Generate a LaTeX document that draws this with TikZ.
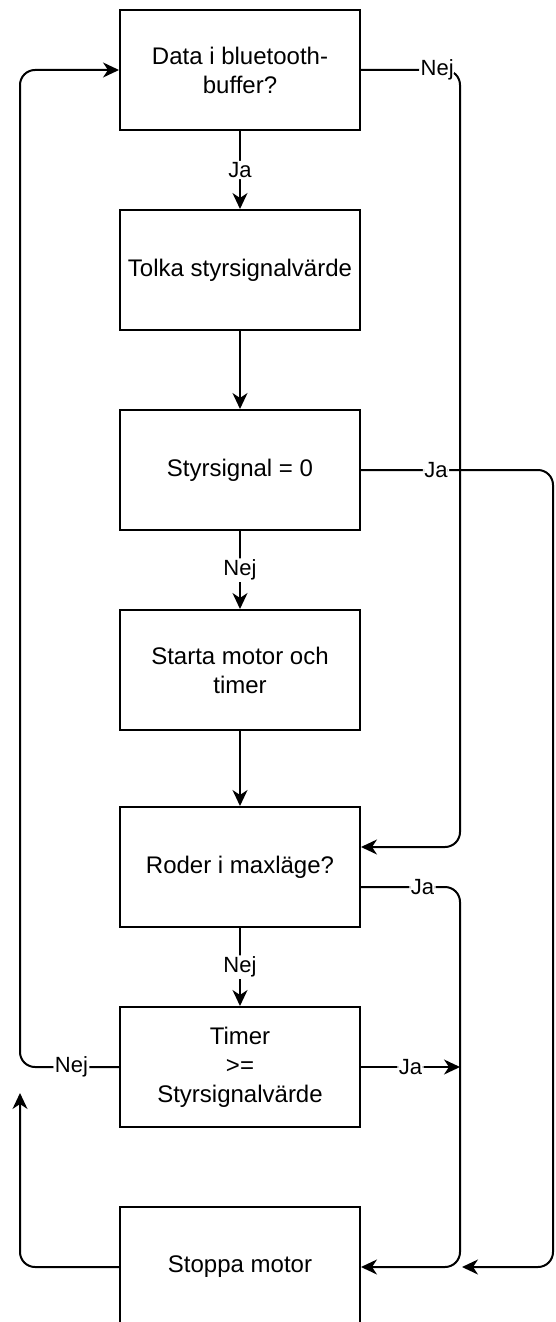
\documentclass[tikz,border=0pt]{standalone}
\usepackage{fontspec}
\setmainfont{Liberation Sans}
\usetikzlibrary{arrows.meta,calc}
\begin{document}
\begin{tikzpicture}[x=1pt,y=-1pt,
  box/.style={draw,line width=2pt,minimum width=240pt,minimum height=120pt,align=center,font=\fontsize{24}{29}\selectfont,inner sep=0pt},
  conn/.style={line width=2pt,rounded corners=15pt},
  arr/.style={conn,-{Stealth[length=16pt,width=15pt,inset=5pt]}},
  lbl/.style={fill=white,inner sep=1.5pt,font=\fontsize{22}{26}\selectfont}]
\useasboundingbox (0,0) rectangle (555,1322);

\node[box] (b1) at (240,70) {Data i bluetooth-\\buffer?};
\node[box] (b2) at (240,270) {Tolka styrsignalvärde};
\node[box] (b3) at (240,470) {Styrsignal = 0};
\node[box] (b4) at (240,670) {Starta motor och\\timer};
\node[box] (b5) at (240,867) {Roder i maxläge?};
\node[box] (b6) at (240,1067) {Timer\\>=\\Styrsignalvärde};
\node[box] (b7) at (240,1267) {Stoppa motor};

\coordinate (rx) at (460,0);
\coordinate (fx) at (553,0);
\coordinate (lx) at (20,0);
\coordinate (p5in) at ($(b5.east)+(0,-20)$);
\coordinate (p5out) at ($(b5.east)+(0,20)$);
\coordinate (e2) at ($(b7.east -| rx)+(2,0)$);
\coordinate (e6) at (20,1093);

\draw[arr] (b1) -- node[lbl]{Ja} (b2);
\draw[arr] (b2) -- (b3);
\draw[arr] (b3) -- node[lbl]{Nej} (b4);
\draw[arr] (b4) -- (b5);
\draw[arr] (b5) -- node[lbl]{Nej} (b6);

\draw[arr] (b1.east) -- node[lbl,pos=0.77]{Nej} (b1.east -| rx) -- (rx |- p5in) -- (p5in);
\draw[arr] (b3.east) -- node[lbl,pos=0.39]{Ja} (b3.east -| fx) -- (fx |- b7.east) -- (e2);
\draw[arr] (p5out) -- node[lbl,pos=0.62]{Ja} (p5out -| rx) -- (rx |- b7.east) -- (b7.east);
\draw[arr] (b6.east) -- node[lbl]{Ja} (b6.east -| rx);
\draw[arr] (b6.west) -- node[lbl,pos=0.48]{Nej} (b6.west -| lx) -- (lx |- b1.west) -- (b1.west);
\draw[arr] (b7.west) -- (b7.west -| lx) -- (e6);
\end{tikzpicture}
\end{document}
